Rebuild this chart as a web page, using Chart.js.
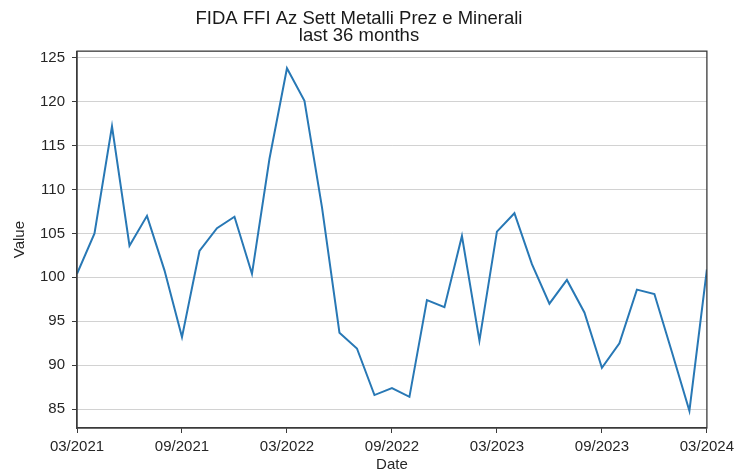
<!DOCTYPE html>
<html>
<head>
<meta charset="utf-8">
<script src="https://cdn.jsdelivr.net/npm/chart.js@4/dist/chart.umd.min.js"></script>
<style>
  html, body { margin: 0; padding: 0; background: #fff; }
  #wrap { width: 739px; height: 474px; }
</style>
</head>
<body>
<div id="wrap"><canvas id="fida"></canvas></div>
<script>
// monthly values, 03/2021 .. 03/2024
const months = [
  '03/2021','04/2021','05/2021','06/2021','07/2021','08/2021','09/2021','10/2021','11/2021','12/2021',
  '01/2022','02/2022','03/2022','04/2022','05/2022','06/2022','07/2022','08/2022','09/2022','10/2022',
  '11/2022','12/2022','01/2023','02/2023','03/2023','04/2023','05/2023','06/2023','07/2023','08/2023',
  '09/2023','10/2023','11/2023','12/2023','01/2024','02/2024','03/2024'
];
const values = [
  100.4, 105.0, 117.2, 103.6, 107.0, 100.8, 93.2, 103.0, 105.6, 106.9,
  100.4, 113.5, 123.8, 120.1, 108.0, 93.7, 91.9, 86.6, 87.4, 86.4,
  97.4, 96.6, 104.7, 92.8, 105.2, 107.3, 101.5, 97.0, 99.7, 96.0,
  89.7, 92.5, 98.6, 98.1, 91.5, 84.8, 100.9
];
const yTicks = [85, 90, 95, 100, 105, 110, 115, 120, 125];

const axisColor = '#3a3a3a';
const textColor = '#262626';
const font = 'Liberation Sans, Arial, sans-serif';

// box round the plot (top and right sides too)
const frame = {
  id: 'frame',
  afterDatasetsDraw(chart) {
    const a = chart.chartArea, c = chart.ctx;
    c.save();
    c.strokeStyle = axisColor;
    c.lineWidth = 1.3;
    c.strokeRect(a.left, a.top, a.right - a.left, a.bottom - a.top);
    c.restore();
  }
};

const ctx = document.getElementById('fida');
new Chart(ctx, {
  type: 'line',
  data: {
    datasets: [{
      label: 'Value',
      data: values.map((v, i) => ({x: i, y: v})),
      borderColor: '#2878b5',
      borderWidth: 2,
      pointRadius: 0,
      tension: 0,
      fill: false
    }]
  },
  options: {
    responsive: true,
    maintainAspectRatio: false,
    animation: false,
    layout: { padding: { left: 11, right: 32, top: 4, bottom: 0 } },
    scales: {
      x: {
        type: 'linear',
        min: 0,
        max: months.length - 1,
        afterFit(scale) { scale.height = 46; },
        ticks: {
          stepSize: 6,
          autoSkip: false,
          maxRotation: 0,
          padding: 5,
          color: textColor,
          font: { family: font, size: 15 },
          callback: v => months[v]
        },
        grid: { drawOnChartArea: false, tickLength: 5, tickColor: axisColor },
        border: { color: axisColor, width: 1.3 },
        title: { display: true, text: 'Date', color: textColor, padding: 0, font: { family: font, size: 15 } }
      },
      y: {
        min: 82.85,
        max: 125.75,
        afterFit(scale) { scale.width = 66; },
        afterBuildTicks(scale) { scale.ticks = yTicks.map(v => ({value: v})); },
        ticks: {
          includeBounds: false,
          padding: 7,
          color: textColor,
          font: { family: font, size: 15 }
        },
        grid: { color: '#d2d2d2', lineWidth: 1, tickLength: 5, tickColor: axisColor },
        border: { color: axisColor, width: 1.3 },
        title: { display: true, text: 'Value', color: textColor, padding: 0, font: { family: font, size: 15 } }
      }
    },
    plugins: {
      legend: { display: false },
      tooltip: { enabled: false },
      title: {
        display: true,
        text: ['FIDA FFI Az Sett Metalli Prez e Minerali', 'last 36 months'],
        color: '#1a1a1a',
        font: { family: font, size: 18.5, weight: 'normal', lineHeight: 0.95 },
        padding: { top: 6, bottom: 6 }
      }
    }
  },
  plugins: [frame]
});
</script>
</body>
</html>
